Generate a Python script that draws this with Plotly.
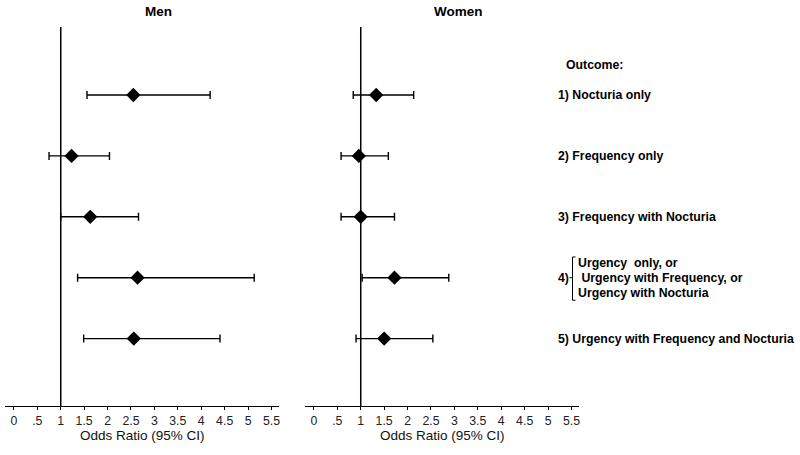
import plotly.graph_objects as go

outcomes = ["1) Nocturia only", "2) Frequency only", "3) Frequency with Nocturia",
            "4) Urgency only, or Urgency with Frequency, or Urgency with Nocturia",
            "5) Urgency with Frequency and Nocturia"]
men_or = [2.55, 1.23, 1.63, 2.64, 2.56]
men_lo = [1.56, 0.75, 1.00, 1.36, 1.49]
men_hi = [4.19, 2.04, 2.66, 5.13, 4.40]
women_or = [1.33, 0.96, 1.00, 1.72, 1.50]
women_lo = [0.84, 0.58, 0.58, 1.03, 0.90]
women_hi = [2.13, 1.59, 1.72, 2.88, 2.54]
tick_vals = [0, 0.5, 1, 1.5, 2, 2.5, 3, 3.5, 4, 4.5, 5, 5.5]
tick_text = ["0", ".5", "1", "1.5", "2", "2.5", "3", "3.5", "4", "4.5", "5", "5.5"]
axis_title = "Odds Ratio (95% CI)"

rows = list(range(1, len(outcomes) + 1))

fig = go.Figure()

def add_panel(orv, lo, hi, xa, ya):
    fig.add_trace(go.Scatter(
        x=orv, y=rows, mode="markers", xaxis=xa, yaxis=ya,
        marker=dict(symbol="diamond", size=11, color="black"),
        error_x=dict(type="data", symmetric=False,
                     array=[h - o for h, o in zip(hi, orv)],
                     arrayminus=[o - l for o, l in zip(orv, lo)],
                     color="black", thickness=1.4, width=4),
        showlegend=False, hoverinfo="x"))

add_panel(men_or, men_lo, men_hi, "x", "y")
add_panel(women_or, women_lo, women_hi, "x2", "y2")

xcommon = dict(range=[-0.19, 5.66], tickvals=tick_vals, ticktext=tick_text,
               showline=True, linecolor="black", linewidth=1.4,
               ticks="outside", ticklen=3, tickwidth=1.2, tickcolor="black",
               showgrid=False, zeroline=False,
               tickfont=dict(family="Liberation Sans, Arial", size=12.3, color="#222"))
ycommon = dict(range=[6.107, -0.117], showticklabels=False, showgrid=False,
               zeroline=False, showline=False, ticks="")

fig.update_layout(
    width=800, height=455,
    margin=dict(l=0, r=0, t=27, b=49),
    paper_bgcolor="white", plot_bgcolor="white",
    xaxis=dict(domain=[5/800, 279/800], anchor="y", **xcommon),
    xaxis2=dict(domain=[305/800, 579/800], anchor="y2", **xcommon),
    yaxis=dict(domain=[0, 1], anchor="x", **ycommon),
    yaxis2=dict(domain=[0, 1], anchor="x2", **ycommon),
)

# axis titles
for xr in ["x domain", "x2 domain"]:
    fig.add_annotation(text=axis_title, xref=xr, yref="paper", x=0.5, y=-0.078,
                       xanchor="center", yanchor="middle", showarrow=False,
                       font=dict(family="Liberation Sans, Arial", size=13.5, color="#111"))

# reference lines at OR = 1
for xr, yr in [("x", "y domain"), ("x2", "y2 domain")]:
    fig.add_shape(type="line", xref=xr, yref=yr, x0=1, x1=1, y0=0, y1=1,
                  line=dict(color="black", width=1.5))

bold = dict(family="Liberation Sans, Arial", size=12.3, color="black")
# panel titles
fig.add_annotation(text="<b>Men</b>", xref="paper", yref="paper", x=158/800, y=1.04,
                   xanchor="center", yanchor="middle",
                   showarrow=False, font=dict(family="Liberation Sans, Arial", size=13.5, color="black"))
fig.add_annotation(text="<b>Women</b>", xref="paper", yref="paper", x=458.5/800, y=1.04,
                   xanchor="center", yanchor="middle",
                   showarrow=False, font=dict(family="Liberation Sans, Arial", size=13.5, color="black"))

fig.add_annotation(text="<b>Outcome:</b>", xref="paper", yref="y", x=564/800, y=0.5,
                   xanchor="left", yanchor="middle", showarrow=False, font=bold)

labels_simple = {0: outcomes[0], 1: outcomes[1], 2: outcomes[2], 4: outcomes[4]}
for i, lab in labels_simple.items():
    fig.add_annotation(text="<b>" + lab + "</b>", xref="paper", yref="y", x=556/800, y=rows[i],
                       xanchor="left", yanchor="middle", showarrow=False, font=bold)

# outcome 4 with bracket
r4 = rows[3]
fig.add_annotation(text="<b>4)</b>", xref="paper", yref="y", x=556/800, y=r4,
                   xanchor="left", yanchor="middle", showarrow=False, font=bold)
sub4 = ["Urgency  only, or", " Urgency with Frequency, or", "Urgency with Nocturia"]
for j, s in enumerate(sub4):
    fig.add_annotation(text="<b>" + s + "</b>", xref="paper", yref="y",
                       x=575.5/800, y=r4 + (j - 1) * 0.245,
                       xanchor="left", yanchor="middle", showarrow=False, font=bold)
# bracket
bx = 572.5/800
bt, bb = r4 - 0.34, r4 + 0.37
fig.add_shape(type="line", xref="paper", yref="y", x0=bx, x1=bx, y0=bt, y1=bb,
              line=dict(color="black", width=1))
fig.add_shape(type="line", xref="paper", yref="y", x0=bx, x1=bx + 3/800, y0=bt, y1=bt,
              line=dict(color="black", width=1))
fig.add_shape(type="line", xref="paper", yref="y", x0=bx, x1=bx + 3/800, y0=bb, y1=bb,
              line=dict(color="black", width=1))
fig.add_shape(type="line", xref="paper", yref="y", x0=bx - 3/800, x1=bx, y0=r4, y1=r4,
              line=dict(color="black", width=1))

fig.write_html("out.html", config={"displayModeBar": False},
               post_script="document.body.style.margin='0';")
